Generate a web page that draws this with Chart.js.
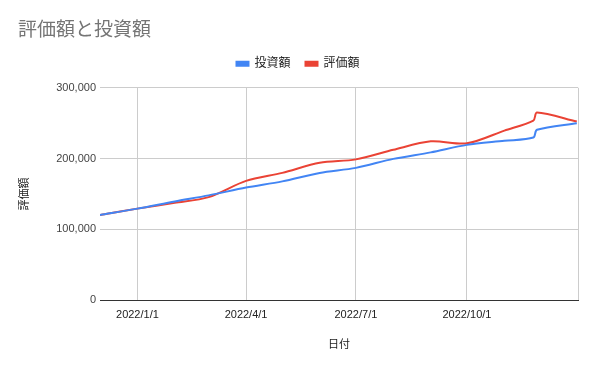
<!DOCTYPE html>
<html>
<head>
<meta charset="utf-8">
<script src="https://cdn.jsdelivr.net/npm/chart.js@4"></script>
<style>
    html, body { margin: 0; padding: 0; background: #fff; }
    #wrap { width: 600px; height: 371px; }
</style>
</head>
<body>
<div id="wrap"><canvas id="chart"></canvas></div>
<script>
// data
var dates = ['2021-12-01', '2022-01-01', '2022-02-01', '2022-03-01', '2022-04-01', '2022-05-01',
    '2022-06-01', '2022-07-01', '2022-08-01', '2022-09-01', '2022-10-01', '2022-11-01',
    '2022-11-25', '2022-11-28', '2022-12-31'];
var toushi = [120300, 129200, 139400, 147900, 158900, 167700, 179700, 186800, 199500, 208700, 219300, 225000, 229700, 240600, 250000];
var hyouka = [120300, 129200, 137300, 145500, 168400, 179700, 193900, 198800, 212300, 224300, 221500, 239500, 253700, 265000, 252300];
var tickDates = ['2022-01-01', '2022-04-01', '2022-07-01', '2022-10-01', '2023-01-01'];
var tickLabels = ['2022/1/1', '2022/4/1', '2022/7/1', '2022/10/1', ''];

var start = Date.UTC(2021, 11, 1);
function dayOf(s) {
    var p = s.split('-');
    return (Date.UTC(+p[0], +p[1] - 1, +p[2]) - start) / 86400000;
}
function points(values) {
    return values.map(function (v, i) { return { x: dayOf(dates[i]), y: v }; });
}
var tickDays = tickDates.map(dayOf);

var font = "'Liberation Sans', Arial, 'Noto Sans CJK JP', sans-serif";

// keep some room under the legend so the plot starts lower
var legendRoom = {
    id: 'legendRoom',
    beforeInit: function (chart) {
        var lg = chart.legend;
        if (!lg) return;
        var fit = lg.fit;
        lg.fit = function () {
            fit.call(this);
            this.height = 45;
        };
    }
};

new Chart(document.getElementById('chart'), {
    type: 'line',
    data: {
        datasets: [
            { label: '投資額', data: points(toushi), borderColor: '#4285F4', backgroundColor: '#4285F4' },
            { label: '評価額', data: points(hyouka), borderColor: '#EA4335', backgroundColor: '#EA4335' }
        ]
    },
    plugins: [legendRoom],
    options: {
        responsive: true,
        maintainAspectRatio: false,
        animation: false,
        layout: { padding: { left: 18, right: 22, top: 0, bottom: 15 } },
        elements: {
            line: { borderWidth: 2, tension: 0.3 },
            point: { radius: 0 }
        },
        plugins: {
            title: {
                display: true,
                text: '評価額と投資額',
                align: 'start',
                color: '#757575',
                font: { family: "Roboto, 'Noto Sans CJK JP', sans-serif", size: 19, weight: 'normal' },
                padding: { top: 20, bottom: 0 }
            },
            legend: {
                display: true,
                position: 'top',
                align: 'center',
                labels: {
                    color: '#222',
                    boxWidth: 12,
                    boxHeight: 4,
                    padding: 15,
                    font: { family: font, size: 12 }
                }
            },
            tooltip: { enabled: false }
        },
        scales: {
            x: {
                type: 'linear',
                min: 0,
                max: dayOf('2023-01-01'),
                afterBuildTicks: function (scale) {
                    scale.ticks = tickDays.map(function (d) { return { value: d }; });
                },
                afterFit: function (scale) { scale.height = 56; },
                ticks: {
                    color: '#222',
                    padding: 8,
                    maxRotation: 0,
                    autoSkip: false,
                    font: { family: font, size: 11 },
                    callback: function (value) {
                        var i = tickDays.indexOf(value);
                        return i >= 0 ? tickLabels[i] : '';
                    }
                },
                grid: { color: '#cccccc', drawTicks: false },
                border: { color: '#333333', width: 1 },
                title: {
                    display: true,
                    text: '日付',
                    color: '#222',
                    font: { family: font, size: 11 },
                    padding: { top: 0, bottom: 4 }
                }
            },
            y: {
                min: 0,
                max: 300000,
                afterFit: function (scale) { scale.width = 82; },
                ticks: {
                    stepSize: 100000,
                    color: '#444',
                    padding: 4,
                    font: { family: font, size: 11 },
                    callback: function (value) { return value.toLocaleString('en-US'); }
                },
                grid: { color: '#cccccc', drawTicks: false },
                border: { display: false },
                title: {
                    display: true,
                    text: '評価額',
                    color: '#222',
                    font: { family: font, size: 11 },
                    padding: { top: 0, bottom: 0 }
                }
            }
        }
    }
});
</script>
</body>
</html>
